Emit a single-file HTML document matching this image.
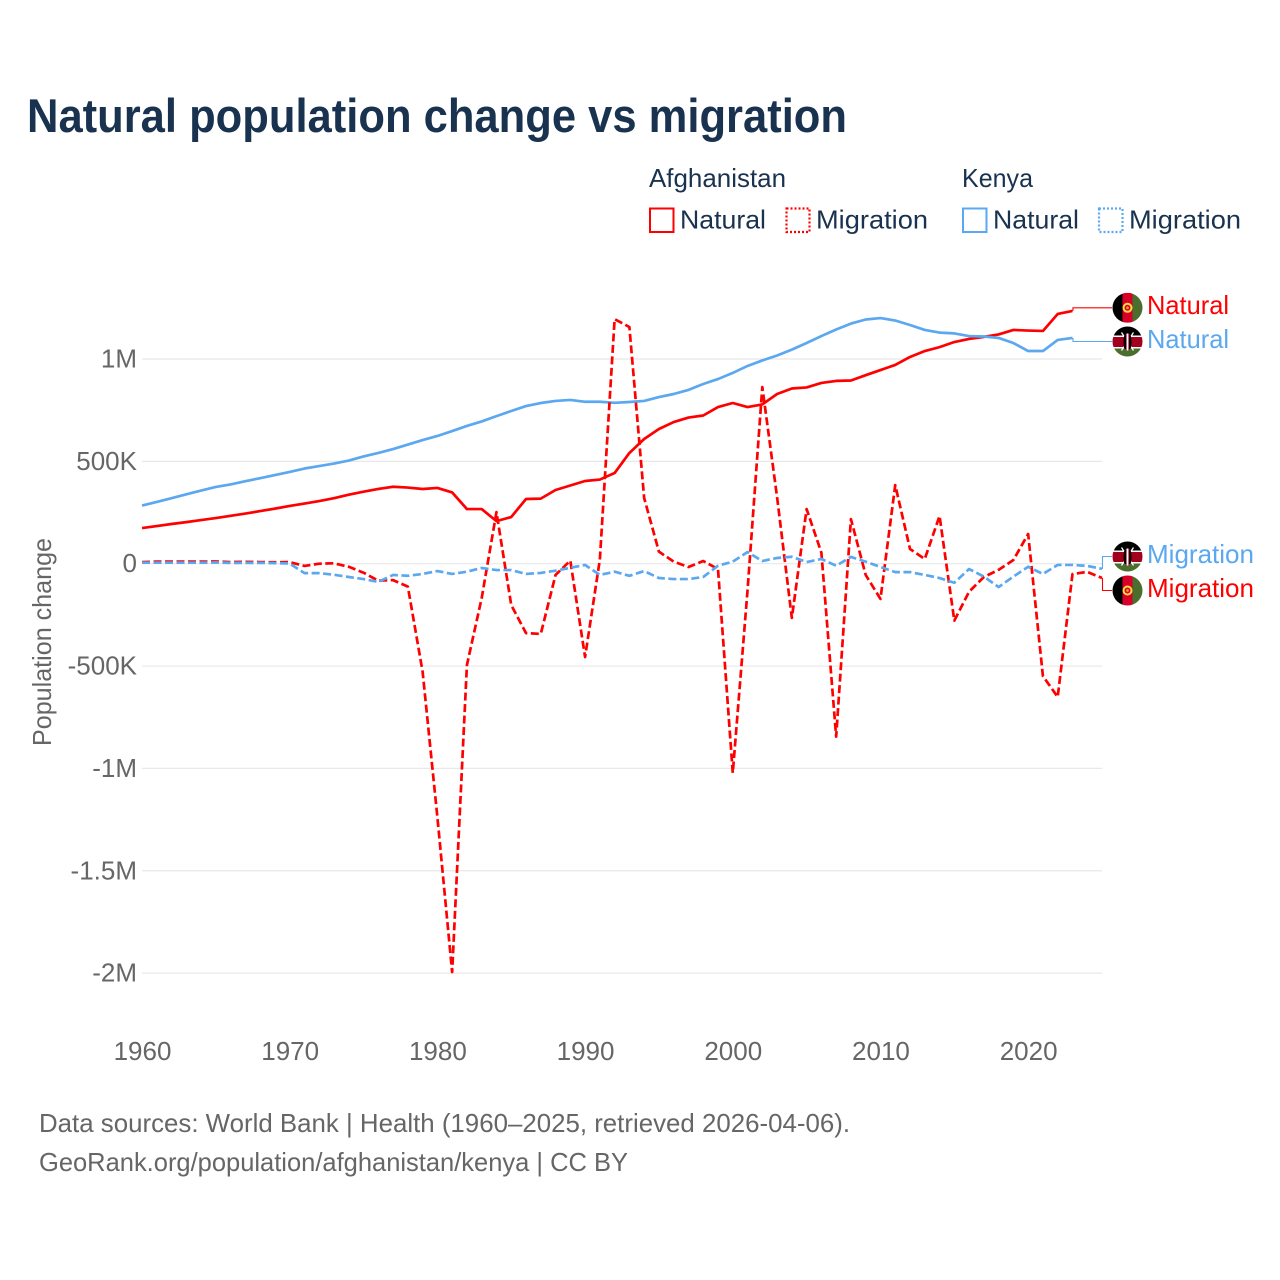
<!DOCTYPE html>
<html lang="en">
<head>
<meta charset="utf-8">
<title>Natural population change vs migration</title>
<style>
html,body{margin:0;padding:0;background:#fff;}
#chart{display:block;width:1280px;height:1280px;font-family:"Liberation Sans",sans-serif;}
</style>
</head>
<body>
<svg id="chart" xmlns="http://www.w3.org/2000/svg" width="1280" height="1280" viewBox="0 0 1280 1280">
  <defs>
    <clipPath id="flag-clip"><circle cx="0" cy="0" r="15"/></clipPath>
    <g id="flag-af" clip-path="url(#flag-clip)">
      <rect x="-15" y="-15" width="10" height="30" fill="#000"/>
      <rect x="-5" y="-15" width="10" height="30" fill="#d80027"/>
      <rect x="5" y="-15" width="10" height="30" fill="#496e2d"/>
      <circle cx="0" cy="0" r="4" fill="none" stroke="#ffda44" stroke-width="2"/>
      <circle cx="0" cy="0" r="1.4" fill="#e8a020"/>
    </g>
    <g id="flag-ke" clip-path="url(#flag-clip)">
      <rect x="-15" y="-15" width="30" height="30" fill="#fff"/>
      <rect x="-15" y="-15" width="30" height="9" fill="#000"/>
      <rect x="-15" y="-4.5" width="30" height="10" fill="#a2001d"/>
      <rect x="-15" y="7" width="30" height="8" fill="#496e2d"/>
      <path d="M-6-9 6 9M6-9-6 9" stroke="#fff" stroke-width="1.3"/>
      <ellipse cx="0" cy="0.5" rx="4.5" ry="8.5" fill="#a2001d"/>
      <path d="M-3-6.5Q-5 .5-3 7.5L-1.6 7.5V-6.5ZM3-6.5Q5 .5 3 7.5L1.6 7.5V-6.5Z" fill="#000"/>
      <rect x="-0.9" y="-8" width="1.8" height="17" fill="#fff"/>
    </g>
  </defs>

  <rect width="1280" height="1280" fill="#fff"/>

  <text x="27" y="132" font-size="47" font-weight="700" fill="#18324f" textLength="820" lengthAdjust="spacingAndGlyphs">Natural population change vs migration</text>

  <g font-size="26" fill="#18324f">
    <text x="649" y="187" textLength="137" lengthAdjust="spacingAndGlyphs">Afghanistan</text>
    <text x="962" y="187" textLength="71" lengthAdjust="spacingAndGlyphs">Kenya</text>
    <g>
      <rect x="650" y="208.5" width="23.5" height="23.5" fill="none" stroke="#ff0000" stroke-width="2"/>
      <text x="680" y="228.5" textLength="86" lengthAdjust="spacingAndGlyphs">Natural</text>
    </g>
    <g>
      <rect x="786.5" y="208.5" width="23" height="23.5" fill="none" stroke="#ff0000" stroke-width="2.2" stroke-dasharray="2 2"/>
      <text x="816" y="228.5" textLength="112" lengthAdjust="spacingAndGlyphs">Migration</text>
    </g>
    <g>
      <rect x="963" y="208.5" width="23.5" height="23.5" fill="none" stroke="#5ba8f0" stroke-width="2"/>
      <text x="993" y="228.5" textLength="86" lengthAdjust="spacingAndGlyphs">Natural</text>
    </g>
    <g>
      <rect x="1099" y="208.5" width="23.5" height="23.5" fill="none" stroke="#5ba8f0" stroke-width="2.2" stroke-dasharray="2 2"/>
      <text x="1129" y="228.5" textLength="112" lengthAdjust="spacingAndGlyphs">Migration</text>
    </g>
  </g>

  <g id="grid"></g>
  <g id="y-ticks"></g>
  <g id="x-ticks"></g>
  <text transform="translate(51,642) rotate(-90)" text-anchor="middle" font-size="26" fill="#666" textLength="208" lengthAdjust="spacingAndGlyphs">Population change</text>

  <g id="series"></g>

  <g>
    <use href="#flag-af" x="1127.5" y="307.8"/>
    <use href="#flag-ke" x="1127.5" y="341.5"/>
    <use href="#flag-ke" x="1127.5" y="556.5"/>
    <use href="#flag-af" x="1127.5" y="590.5"/>
    <text x="1147" y="314" font-size="26" fill="#ff0000" textLength="82" lengthAdjust="spacingAndGlyphs">Natural</text>
    <text x="1147" y="348" font-size="26" fill="#5ba8f0" textLength="82" lengthAdjust="spacingAndGlyphs">Natural</text>
    <text x="1147" y="563" font-size="26" fill="#5ba8f0" textLength="107" lengthAdjust="spacingAndGlyphs">Migration</text>
    <text x="1147" y="597" font-size="26" fill="#ff0000" textLength="107" lengthAdjust="spacingAndGlyphs">Migration</text>
  </g>

  <g font-size="26" fill="#666">
    <text x="39" y="1132" textLength="811" lengthAdjust="spacingAndGlyphs">Data sources: World Bank | Health (1960–2025, retrieved 2026-04-06).</text>
    <text x="39" y="1171" textLength="589" lengthAdjust="spacingAndGlyphs">GeoRank.org/population/afghanistan/kenya | CC BY</text>
  </g>
</svg>

<script>
// Chart data (values in thousands of people)
const years = [
  1960,1961,1962,1963,1964,1965,1966,1967,1968,1969,
  1970,1971,1972,1973,1974,1975,1976,1977,1978,1979,
  1980,1981,1982,1983,1984,1985,1986,1987,1988,1989,
  1990,1991,1992,1993,1994,1995,1996,1997,1998,1999,
  2000,2001,2002,2003,2004,2005,2006,2007,2008,2009,
  2010,2011,2012,2013,2014,2015,2016,2017,2018,2019,
  2020,2021,2022,2023,2024,2025
];
const afghanistanNatural = [
  174,184,194,203,213,223,234,245,257,269,
  282,294,306,320,337,352,365,376,372,365,
  370,348,267,267,208,228,316,318,360,382,
  404,411,443,541,609,658,692,714,724,765,
  785,765,778,829,856,861,883,893,895,921,
  946,971,1010,1039,1058,1083,1098,1108,1120,1142,
  1139,1137,1220,1235
];
const kenyaNatural = [
  284,302,320,339,357,375,387,403,418,433,
  448,465,477,489,504,524,541,560,582,604,
  624,648,673,695,721,746,770,785,795,800,
  791,791,786,790,795,814,829,849,878,902,
  932,966,993,1017,1046,1078,1112,1144,1173,1193,
  1200,1188,1166,1142,1129,1125,1112,1110,1103,1078,
  1039,1039,1093,1103
];
const afghanistanMigration = [
  8,10,10,10,10,11,8,9,8,7,
  8,-11,0,2,-15,-44,-83,-80,-112,-528,
  -1238,-1995,-495,-168,252,-202,-339,-343,-55,15,
  -456,20,1195,1156,321,59,10,-16,13,-26,
  -1022,-130,863,325,-265,267,54,-845,218,-55,
  -172,384,72,23,233,-278,-137,-65,-30,18,
  145,-549,-651,-51,-40,-70
];
const kenyaMigration = [
  5,5,5,5,5,6,4,4,4,3,
  1,-46,-46,-54,-65,-75,-89,-55,-59,-50,
  -36,-50,-39,-21,-31,-31,-50,-45,-34,-20,
  -6,-55,-39,-59,-36,-70,-75,-75,-65,-10,
  10,57,13,28,34,8,23,-10,33,10,
  -16,-41,-41,-55,-70,-93,-26,-63,-114,-63,
  -15,-50,-6,-6,-11,-25
];
const yTickValues = [1000,500,0,-500,-1000,-1500,-2000];
const yTickLabels = ["1M","500K","0","-500K","-1M","-1.5M","-2M"];
const xTickValues = [1960,1970,1980,1990,2000,2010,2020];

// Axis functions
const X0 = 142, X1 = 1102, Y_ZERO = 563.7, PX_PER_K = 0.2047;
function xScale(year){ return X0 + (year - years[0]) * (X1 - X0) / (years[years.length-1] - years[0]); }
function yScale(v){ return Y_ZERO - v * PX_PER_K; }

const NS = "http://www.w3.org/2000/svg";
function make(tag, attrs, parent){
  const el = document.createElementNS(NS, tag);
  for (const k in attrs) el.setAttribute(k, attrs[k]);
  parent.appendChild(el);
  return el;
}

const grid = document.getElementById("grid");
const yTicks = document.getElementById("y-ticks");
yTickValues.forEach(function(v, i){
  const line = make("line", {x1:X0, x2:X1, y1:yScale(v), y2:yScale(v), stroke:"#e8e8e8", "stroke-width":1.2}, grid);
  
  
  const t = make("text", {x:137, y:yScale(v)+8.5, "text-anchor":"end", "font-size":26, fill:"#666"}, yTicks);
  
  
  t.textContent = yTickLabels[i];
});

const xTicks = document.getElementById("x-ticks");
xTickValues.forEach(function(y){
  const t = make("text", {x:xScale(y)+0.5, y:1060, "text-anchor":"middle", "font-size":26, fill:"#666"}, xTicks);
  
  
  t.textContent = y;
});

function linePath(values){
  return values.map(function(v, i){
    return (i ? "L" : "M") + xScale(years[i]).toFixed(2) + " " + yScale(v).toFixed(2);
  }).join("");
}
function connectorPath(values, labelY){
  const i = values.length - 1;
  const x = xScale(years[i]) + 0.5, y = yScale(values[i]);
  return "M" + x.toFixed(2) + " " + y.toFixed(2) + "V" + labelY + "H1112";
}

const seriesGroup = document.getElementById("series");
function drawSeries(values, color, dashed, labelY){
  const conn = make("path", {d:connectorPath(values, labelY), fill:"none", stroke:color, "stroke-width":1.1}, seriesGroup);
  
  
  const attrs = {d:linePath(values), fill:"none", stroke:color, "stroke-width":2.7, "stroke-linejoin":"round"};
  if (dashed) attrs["stroke-dasharray"] = "8 3.5";
  const p = make("path", attrs, seriesGroup);
  
  
}
drawSeries(afghanistanNatural, "#ff0000", false, 307.8);
drawSeries(kenyaNatural, "#5ba8f0", false, 341.5);
drawSeries(afghanistanMigration, "#ff0000", true, 590.5);
drawSeries(kenyaMigration, "#5ba8f0", true, 556.5);
</script>
</body>
</html>
